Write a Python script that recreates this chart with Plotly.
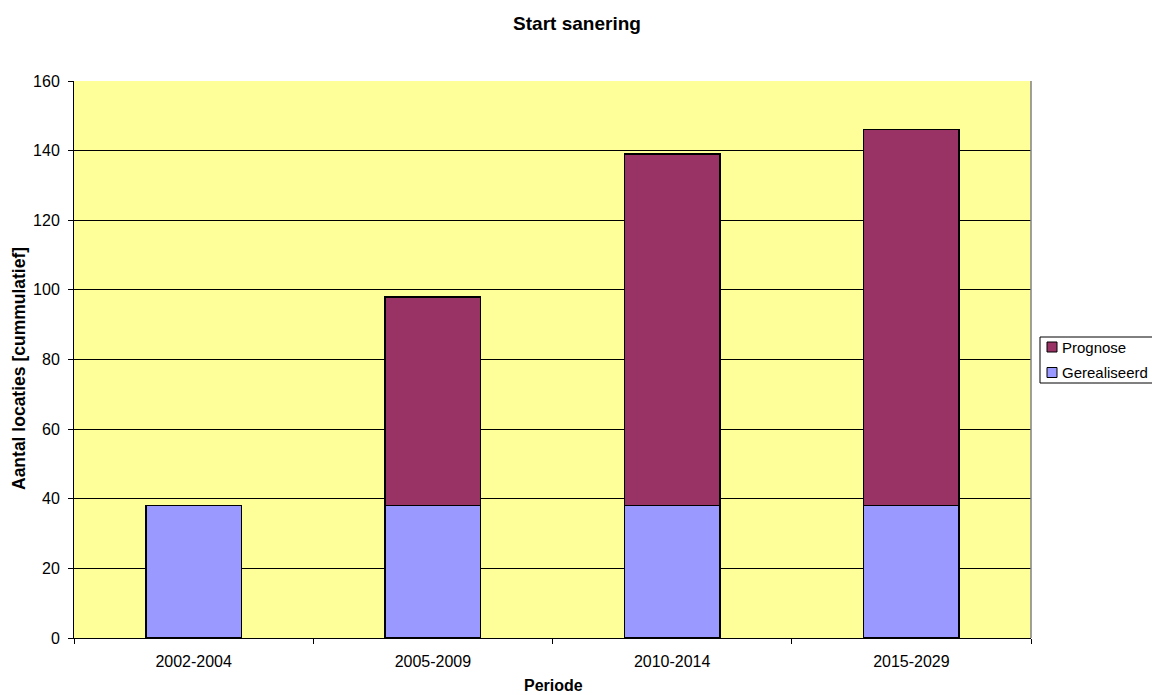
import plotly.graph_objects as go

# Periods and cumulative counts of locations
perioden = ["2002-2004", "2005-2009", "2010-2014", "2015-2029"]
gerealiseerd = [38, 38, 38, 38]
prognose = [0, 60, 101, 108]

kleur_gerealiseerd = "#9999FF"
kleur_prognose = "#993366"
font_family = "Liberation Sans, Arial, sans-serif"

W, H = 1152, 695
L, R, T, B = 74, 121, 81, 57
PW, PH = W - L - R, H - T - B


def px(x):
    return (x - L) / PW


def py(y):
    return (H - B - y) / PH


fig = go.Figure()
fig.add_trace(go.Bar(
    x=perioden, y=gerealiseerd, name="Gerealiseerd",
    marker=dict(color=kleur_gerealiseerd, line=dict(color="#000000", width=1.5)),
))
fig.add_trace(go.Bar(
    x=perioden, y=prognose, name="Prognose",
    marker=dict(color=kleur_prognose, line=dict(color="#000000", width=1.5)),
))

fig.update_layout(
    barmode="stack",
    bargap=0.6,
    width=W, height=H,
    margin=dict(l=L, r=R, t=T, b=B, autoexpand=False),
    paper_bgcolor="#FFFFFF",
    plot_bgcolor="#FFFF99",
    font=dict(family=font_family, size=16, color="#000000"),
    title=dict(text="<b>Start sanering</b>", x=px(577), xanchor="center",
               xref="paper", y=1 - 23 / H, yanchor="middle",
               font=dict(size=19, family=font_family)),
    showlegend=False,
    xaxis=dict(
        type="category",
        tickson="boundaries",
        ticks="outside", ticklen=5, tickcolor="#000000",
        ticklabelstandoff=9,
        tickfont=dict(size=16),
        showline=True, linecolor="#000000", linewidth=1,
        showgrid=False,
    ),
    yaxis=dict(
        range=[0, 160], dtick=20,
        ticks="outside", ticklen=5, tickcolor="#000000",
        ticklabelstandoff=5,
        tickfont=dict(size=16),
        showline=True, linecolor="#000000", linewidth=1,
        showgrid=True, gridcolor="#000000", gridwidth=1,
        zeroline=False,
    ),
)

# axis titles
fig.add_annotation(text="<b>Periode</b>", xref="paper", yref="paper",
                   x=px(553), y=py(685), xanchor="center", yanchor="middle",
                   showarrow=False, font=dict(size=16, family=font_family))
fig.add_annotation(text="<b>Aantal locaties [cummulatief]</b>", xref="paper", yref="paper",
                   x=px(19), y=py(369), xanchor="center", yanchor="middle",
                   textangle=-90, showarrow=False,
                   font=dict(size=17.5, family=font_family))

# right border of the plot area
fig.add_shape(type="line", xref="paper", yref="paper", x0=1, x1=1, y0=0, y1=1,
              line=dict(color="#808080", width=1.5))

# legend box with series swatches
fig.add_shape(type="rect", xref="paper", yref="paper",
              x0=px(1040), x1=px(1165), y0=py(383), y1=py(337),
              line=dict(color="#000000", width=1), fillcolor="#FFFFFF")
legend_items = [("Prognose", kleur_prognose, 347), ("Gerealiseerd", kleur_gerealiseerd, 372.5)]
for naam, kleur, yc in legend_items:
    fig.add_shape(type="rect", xref="paper", yref="paper",
                  x0=px(1047), x1=px(1057), y0=py(yc + 5), y1=py(yc - 5),
                  line=dict(color="#000000", width=1), fillcolor=kleur)
    fig.add_annotation(text=naam, xref="paper", yref="paper",
                       x=px(1060), y=py(yc), xanchor="left", yanchor="middle",
                       showarrow=False, font=dict(size=15, family=font_family))

fig.write_html("out.html")
